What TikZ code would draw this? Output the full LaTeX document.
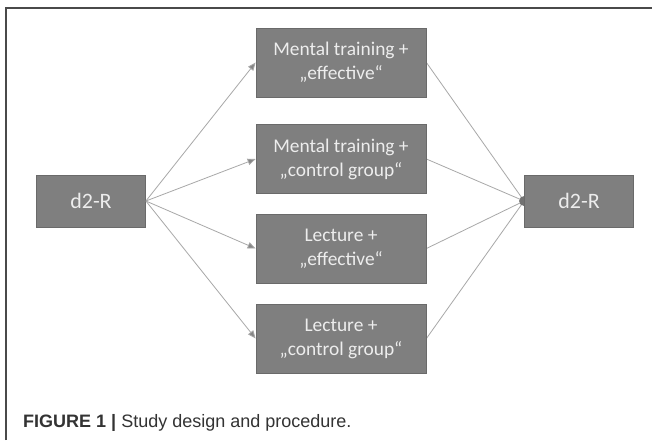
\documentclass[tikz,border=0pt]{standalone}
\usepackage{fontspec}
\setmainfont{Carlito}
\newfontfamily\captionfont{Liberation Sans}
\usetikzlibrary{arrows.meta,backgrounds}
\definecolor{boxfill}{HTML}{7F7F7F}
\definecolor{boxline}{HTML}{6A6A6A}
\definecolor{boxtext}{HTML}{EDEDED}
\definecolor{linkgray}{HTML}{A8A8A8}
\definecolor{framegray}{HTML}{4A4A4A}
\definecolor{captext}{HTML}{333333}
\tikzset{
  stage/.style={draw=boxline, line width=0.8pt, fill=boxfill, text=boxtext,
    inner sep=0pt, align=center},
  testbox/.style={stage, minimum width=109pt, minimum height=52pt,
    font=\fontsize{22}{26}\selectfont},
  groupbox/.style={stage, minimum width=170pt, minimum height=69pt,
    font=\fontsize{19.4}{24}\selectfont},
  feed/.style={draw=linkgray, line width=0.8pt,
    -{Triangle[length=8pt,width=6.5pt,fill=linkgray!80!black]}},
  merge/.style={draw=linkgray, line width=0.8pt},
}
\begin{document}
\begin{tikzpicture}[x=1pt, y=-1pt]
\useasboundingbox (0,0) rectangle (652,440);

% frame
\draw[framegray, line width=1.3pt] (6,440) -- (6,8) -- (652,8);

% pre-test, four groups, post-test
\node[testbox] (pre) at (91,201) {d2-R};
\node[groupbox] (g1) at (341,62.5) {Mental training +\\„effective“};
\node[groupbox] (g2) at (341,159) {Mental training +\\„control group“};
\node[groupbox] (g3) at (341,248.5) {Lecture +\\„effective“};
\node[groupbox] (g4) at (341,338.5) {Lecture +\\„control group“};
\node[testbox] (post) at (579,201) {d2-R};

% assignment to the groups
\foreach \g in {g1,g2,g3,g4}
  \draw[feed] (pre.east) -- (\g.west);

% groups into the post-test, meeting in a dot half hidden by the box
\begin{scope}[on background layer]
  \fill[white] (0,0) rectangle (652,440);
  \foreach \g in {g1,g2,g3,g4}
    \draw[merge] (\g.east) -- (post.west);
  \fill[boxfill!90!black] (post.west) circle (5pt);
\end{scope}

% caption
\node[anchor=base west, inner sep=0pt, text=captext,
  font=\captionfont\fontsize{18}{22}\selectfont] (cap) at (23,427)
  {\textbf{FIGURE 1 |} Study design and procedure.};
\end{tikzpicture}
\end{document}
